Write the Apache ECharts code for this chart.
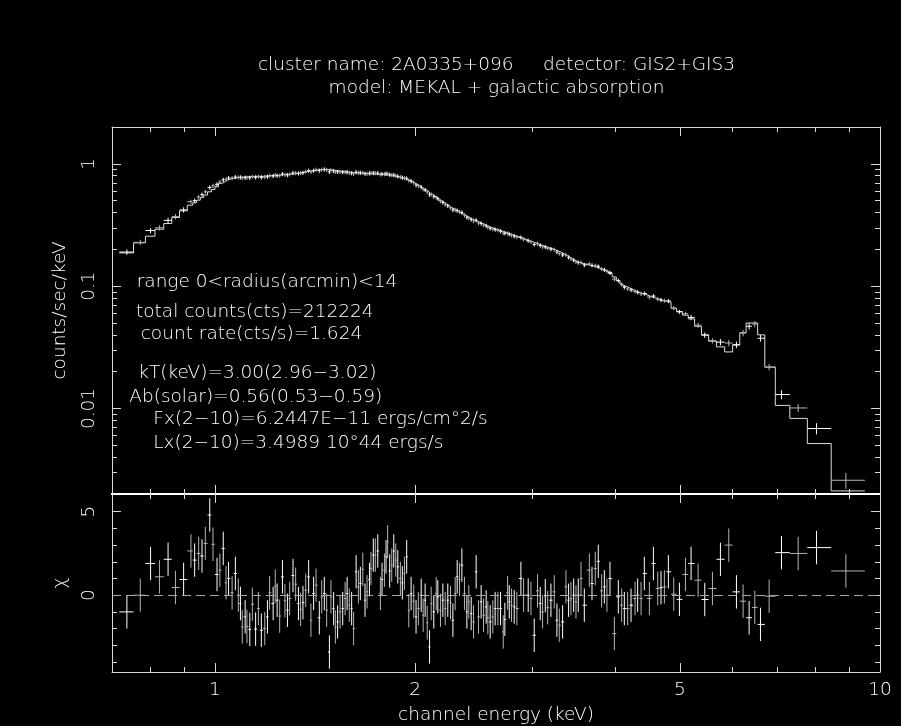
<!DOCTYPE html>
<html>
<head>
<meta charset="utf-8">
<script src="https://cdn.jsdelivr.net/npm/echarts@6/dist/echarts.min.js"></script>
<style>
html,body{margin:0;padding:0;background:#000;}
#chart{width:901px;height:726px;}
</style>
</head>
<body>
<div id="chart"></div>
<script>
// ---- data ----
// bin centres (keV)
const energy = [
 0.737,0.772,0.800,0.825,0.850,0.872,0.897,0.920,0.932,0.945,
 0.956,0.967,0.982,0.993,1.007,1.017,1.029,1.039,1.048,1.061,
 1.073,1.084,1.092,1.099,1.110,1.117,1.128,1.138,1.151,1.162,
 1.174,1.188,1.199,1.208,1.223,1.232,1.240,1.251,1.263,1.274,
 1.285,1.295,1.310,1.322,1.335,1.345,1.356,1.369,1.383,1.394,
 1.407,1.419,1.435,1.447,1.460,1.472,1.486,1.494,1.508,1.517,
 1.529,1.542,1.556,1.569,1.580,1.592,1.605,1.616,1.630,1.643,
 1.654,1.668,1.681,1.693,1.707,1.716,1.730,1.742,1.757,1.773,
 1.783,1.798,1.808,1.818,1.831,1.844,1.857,1.870,1.883,1.900,
 1.913,1.927,1.942,1.956,1.972,1.990,2.006,2.022,2.042,2.056,
 2.070,2.085,2.102,2.114,2.133,2.151,2.163,2.183,2.201,2.219,
 2.239,2.260,2.279,2.297,2.313,2.332,2.351,2.372,2.392,2.408,
 2.428,2.448,2.470,2.490,2.513,2.534,2.557,2.572,2.593,2.617,
 2.638,2.663,2.688,2.713,2.728,2.754,2.770,2.792,2.818,2.844,
 2.884,2.911,2.958,2.986,3.020,3.055,3.084,3.109,3.138,3.164,
 3.200,3.237,3.267,3.294,3.332,3.371,3.402,3.430,3.462,3.490,
 3.518,3.551,3.592,3.655,3.689,3.731,3.770,3.814,3.850,3.885,
 3.926,3.986,4.041,4.088,4.126,4.174,4.223,4.282,4.321,4.372,
 4.422,4.500,4.563,4.632,4.685,4.740,4.806,4.896,4.993,5.098,
 5.199,5.327,5.451,5.598,5.755,5.924,6.083,6.225,6.356,6.482,
 6.611,6.812,7.110,7.533,8.026,8.886
];
const firstEdge = 0.718;
const lastEdge = 9.49;

// residuals (chi)
const chi = [
 -1.0,0.0,1.9,1.1,2.15,0.46,0.94,2.65,2.1,2.5,
 2.35,3.1,4.8,3.05,1.24,1.5,2.8,0.74,1.0,0.14,
 1.3,0.0,-0.5,-1.9,-1.3,-1.87,-2.05,-0.54,-2.03,-0.8,
 -2.1,-2.0,-1.3,0.14,-0.5,0.54,-0.3,-1.25,1.1,-0.33,
 -0.9,-0.2,1.18,0.66,-0.5,-0.85,-0.45,0.3,1.1,-1.5,
 0.1,0.6,-1.35,-0.1,0.1,-0.9,-3.4,-0.1,-0.8,-1.9,
 -1.6,-1.0,-0.8,-0.2,0.1,-0.6,-0.8,-2.0,1.4,0.5,
 0.7,1.55,-0.3,0.2,0.94,1.6,2.4,2.4,2.65,0.1,
 0.94,1.5,2.3,3.2,1.45,1.8,2.65,2.1,1.7,1.0,
 0.74,1.3,2.3,-0.93,0.1,-0.36,-1.3,-0.8,0.0,-1.2,
 -0.3,-1.65,-3.1,-0.5,-1.0,0.1,-0.1,-0.9,-0.3,-0.8,
 -0.3,-0.45,-1.5,0.1,1.1,0.94,1.8,0.1,-1.0,-0.4,
 -1.1,-1.6,1.4,-1.3,-0.4,-1.2,-0.7,-1.35,-1.6,-1.3,
 -0.8,-0.8,-0.8,-2.2,-1.45,0.14,-0.4,-0.6,-0.7,-0.8,
 1.0,0.0,0.0,-0.2,-2.4,0.26,-0.5,-1.0,-0.03,-0.75,
 -0.3,0.2,-1.5,-1.8,-1.6,0.5,-0.3,-0.2,0.0,-0.4,
 0.0,1.0,-0.6,1.5,0.7,1.6,2.03,0.26,0.5,0.0,
 1.0,-2.3,-0.1,-0.6,-0.8,-0.8,-0.6,-0.2,0.0,-0.2,
 1.3,-0.2,1.9,0.4,0.45,0.5,1.4,0.06,-0.25,1.24,
 1.9,0.9,-0.26,0.4,2.15,3.0,0.2,-0.36,-1.35,-0.73,
 -1.75,-0.06,2.55,2.5,2.85,1.45
];
const chiErr = 1; // residuals are in units of sigma

// folded model (counts/sec/keV)
const model = [
 0.187,0.226,0.256,0.292,0.325,0.364,0.413,0.459,0.48,0.505,
 0.53,0.555,0.59,0.617,0.65,0.69,0.71,0.736,0.75,0.76,
 0.769,0.775,0.78,0.78,0.78,0.785,0.785,0.79,0.79,0.79,
 0.79,0.795,0.795,0.80,0.80,0.805,0.805,0.81,0.815,0.82,
 0.82,0.825,0.83,0.835,0.84,0.845,0.85,0.86,0.87,0.875,
 0.88,0.89,0.895,0.90,0.90,0.90,0.895,0.89,0.885,0.88,
 0.875,0.87,0.865,0.86,0.855,0.85,0.85,0.845,0.845,0.84,
 0.84,0.835,0.835,0.83,0.83,0.83,0.825,0.825,0.82,0.82,
 0.82,0.815,0.815,0.81,0.805,0.80,0.795,0.79,0.78,0.775,
 0.765,0.755,0.745,0.735,0.72,0.70,0.68,0.665,0.645,0.63,
 0.615,0.60,0.58,0.565,0.545,0.53,0.52,0.50,0.485,0.47,
 0.455,0.44,0.43,0.42,0.41,0.40,0.39,0.38,0.37,0.362,
 0.355,0.348,0.34,0.333,0.326,0.32,0.313,0.308,0.302,0.297,
 0.292,0.288,0.283,0.278,0.275,0.27,0.267,0.263,0.258,0.254,
 0.247,0.242,0.235,0.231,0.226,0.221,0.217,0.213,0.209,0.206,
 0.202,0.198,0.194,0.19,0.184,0.178,0.173,0.168,0.163,0.159,
 0.156,0.153,0.151,0.148,0.146,0.143,0.140,0.137,0.135,0.132,
 0.127,0.119,0.111,0.104,0.100,0.097,0.094,0.091,0.089,0.087,
 0.085,0.082,0.080,0.078,0.0765,0.0755,0.074,0.066,0.062,0.058,
 0.054,0.047,0.040,0.0355,0.0319,0.029,0.033,0.0416,0.050,0.050,
 0.040,0.0218,0.0106,0.0083,0.00517,0.00212
];

// measured rate (counts/sec/keV)
const rate = [
 0.19,0.228,0.285,0.30,0.345,0.37,0.42,0.49,0.50,0.535,
 0.56,0.59,0.64,0.66,0.68,0.71,0.74,0.75,0.765,0.765,
 0.78,0.775,0.775,0.765,0.77,0.77,0.77,0.785,0.775,0.785,
 0.775,0.78,0.785,0.80,0.795,0.81,0.80,0.80,0.825,0.815,
 0.81,0.82,0.84,0.84,0.835,0.84,0.845,0.865,0.88,0.86,
 0.88,0.895,0.88,0.895,0.90,0.89,0.86,0.885,0.875,0.86,
 0.86,0.86,0.855,0.855,0.855,0.845,0.84,0.83,0.855,0.845,
 0.845,0.845,0.83,0.83,0.835,0.84,0.84,0.84,0.84,0.82,
 0.825,0.825,0.83,0.83,0.815,0.81,0.81,0.80,0.79,0.78,
 0.77,0.765,0.76,0.73,0.72,0.70,0.67,0.66,0.645,0.62,
 0.612,0.588,0.56,0.562,0.54,0.53,0.52,0.495,0.483,0.465,
 0.453,0.437,0.42,0.42,0.415,0.405,0.40,0.38,0.365,0.36,
 0.35,0.342,0.345,0.328,0.325,0.316,0.311,0.303,0.297,0.293,
 0.29,0.286,0.281,0.272,0.271,0.27,0.266,0.261,0.256,0.252,
 0.25,0.242,0.235,0.23,0.219,0.222,0.215,0.21,0.209,0.204,
 0.201,0.199,0.19,0.185,0.18,0.18,0.172,0.167,0.163,0.158,
 0.156,0.156,0.149,0.152,0.148,0.147,0.145,0.138,0.136,0.132,
 0.129,0.114,0.111,0.103,0.098,0.095,0.093,0.0905,0.089,0.0865,
 0.087,0.0815,0.083,0.0785,0.077,0.076,0.0755,0.066,0.0617,0.0595,
 0.0555,0.048,0.0398,0.0358,0.0349,0.0343,0.0332,0.0414,0.047,0.049,
 0.0375,0.0218,0.013,0.0101,0.00686,0.00259
];

// relative 1-sigma error of the rate (%)
const rateErrPct = [
 5,5,5,5,5,5,5,4,4,4,
 4,4,4,4,4,4,4,4,4,4,
 4,4,4,4,4,4,4,4,4,4,
 4,4,4,4,4,4,4,4,4,4,
 4,4,4,4,4,4,4,4,4,4,
 4,4,4,4,4,4,4,4,4,4,
 4,4,4,4,4,4,4,4,4,4,
 4,4,4,4,4,4,4,4,4,4,
 4,4,4,4,4,4,4,4,4,4,
 4,4,4,4,4,4,4,4,4,4,
 4,4,4,4,4,4,4,4,4,4,
 4,4,4,4,4,4,4,4,4,4,
 4,4,4,4,4,4,4,4,4,4,
 4,4,4,4,4,4,4,4,4,4,
 4,4,4,4,4,4,4,4,4,4,
 4,4,4,4,4,4,4,4,4,4,
 4,4,4,4,4,4,4,4,4,4,
 4,4,4,4,4,4,4,4,4,4,
 4,4,4,4,4,4,4,4,4,4,
 5,5,5,5,6,6,6,6,6,6,
 6,6,8.4,7.4,10.5,15
];

// axes
const xRange = [0.7, 10];
const xMajorTicks = [1, 2, 5, 10];
const xMinorTicks = [0.8, 0.9, 3, 4, 6, 7, 8, 9];
const yTopRange = [0.002, 2];
const yTopMajorTicks = [0.01, 0.1, 1];
const yTopMinorTicks = [0.003,0.004,0.005,0.006,0.007,0.008,0.009,
                        0.02,0.03,0.04,0.05,0.06,0.07,0.08,0.09,
                        0.2,0.3,0.4,0.5,0.6,0.7,0.8,0.9];
const yBotRange = [-4.6, 6.06];
const yBotMajorTicks = [0, 5];
const yBotMinorTicks = [-4, -3, -2, -1, 1, 2, 3, 4];

// texts
const titleLines = [
  'cluster name: 2A0335+096     detector: GIS2+GIS3',
  'model: MEKAL + galactic absorption'
];
const notes = [
  'range 0<radius(arcmin)<14',
  'total counts(cts)=212224',
  'count rate(cts/s)=1.624',
  'kT(keV)=3.00(2.96\u22123.02)',
  'Ab(solar)=0.56(0.53\u22120.59)',
  'Fx(2\u221210)=6.2447E\u221211 ergs/cm\u00b02/s',
  'Lx(2\u221210)=3.4989 10\u00b044 ergs/s'
];
const yTitle = 'counts/sec/keV';
const chiTitle = '\u03c7';
const xTitle = 'channel energy (keV)';

// ---- build ----
const FONT = "'DejaVu Sans', sans-serif";
const FS = 18.5;
const FW = 200;
const TXT = '#ffffff';
const AX = '#d8d8d8';
const N = energy.length;
const lo = [], hi = [];
for (let i = 0; i < N; i++) {
  lo.push(i === 0 ? firstEdge : Math.sqrt(energy[i - 1] * energy[i]));
  hi.push(i === N - 1 ? lastEdge : Math.sqrt(energy[i] * energy[i + 1]));
}
const modelLine = [];
for (let i = 0; i < N; i++) {
  modelLine.push([lo[i], model[i]]);
  modelLine.push([hi[i], model[i]]);
}
const topCross = [], botCross = [];
for (let i = 0; i < N; i++) {
  const e = rate[i] * rateErrPct[i] / 100;
  topCross.push([energy[i], rate[i], lo[i], hi[i], rate[i] - e, rate[i] + e, i % 2]);
  botCross.push([energy[i], chi[i], lo[i], hi[i], chi[i] - chiErr, chi[i] + chiErr, i % 2]);
}

function crossRender(params, api) {
  const x = api.value(0), y = api.value(1);
  const a = api.coord([api.value(2), y]);
  const b = api.coord([api.value(3), y]);
  const c = api.coord([x, api.value(4)]);
  const d = api.coord([x, api.value(5)]);
  const col = api.value(6) ? '#b4b4b4' : '#ffffff';
  return {
    type: 'group',
    children: [
      { type: 'line', shape: { x1: a[0], y1: a[1], x2: b[0], y2: b[1] }, style: { stroke: col, lineWidth: 1 } },
      { type: 'line', shape: { x1: c[0], y1: c[1], x2: d[0], y2: d[1] }, style: { stroke: col, lineWidth: 1 } }
    ]
  };
}

function fmt(v) { return String(+(+v).toPrecision(6)); }

function axis(type, range, grid, pos, ticks, len, opts) {
  opts = opts || {};
  const a = {
    type: type,
    min: range[0], max: range[1],
    gridIndex: grid,
    position: pos,
    axisLine: { show: !!opts.line, onZero: false, lineStyle: { color: opts.lineColor || AX, width: opts.lineWidth || 1 } },
    axisTick: { show: true, inside: true, length: len, customValues: ticks, lineStyle: { color: AX, width: 1 } },
    axisLabel: { show: false },
    splitLine: { show: false },
    minorTick: { show: false },
    minorSplitLine: { show: false },
    axisPointer: { show: false },
    silent: true
  };
  if (type === 'log') a.logBase = 10;
  if (opts.labels) {
    a.axisLabel = {
      show: true, customValues: opts.labels, formatter: fmt,
      color: TXT, fontSize: FS, fontWeight: FW, fontFamily: FONT,
      rotate: opts.rotate || 0, margin: opts.margin || 8
    };
  }
  if (opts.name) {
    a.name = opts.name;
    a.nameLocation = 'middle';
    a.nameGap = opts.nameGap;
    a.nameRotate = opts.nameRotate || 0;
    a.nameTextStyle = { color: TXT, fontSize: FS, fontWeight: FW, fontFamily: FONT };
  }
  return a;
}

const MAJ = 9, MIN = 5;
const xAxes = [
  axis('log', xRange, 0, 'bottom', xMajorTicks, MAJ, { line: true, lineColor: '#ffffff', lineWidth: 2 }),
  axis('log', xRange, 0, 'bottom', xMinorTicks, MIN),
  axis('log', xRange, 0, 'top', xMajorTicks, MAJ, { line: true }),
  axis('log', xRange, 0, 'top', xMinorTicks, MIN),
  axis('log', xRange, 1, 'bottom', xMajorTicks, MAJ, { line: true, labels: xMajorTicks, margin: 9, name: xTitle, nameGap: 34 }),
  axis('log', xRange, 1, 'bottom', xMinorTicks, MIN),
  axis('log', xRange, 1, 'top', xMajorTicks, MAJ, { line: true, lineColor: '#ffffff', lineWidth: 2 }),
  axis('log', xRange, 1, 'top', xMinorTicks, MIN)
];
const yAxes = [
  axis('log', yTopRange, 0, 'left', yTopMajorTicks, MAJ, { line: true, labels: yTopMajorTicks, rotate: 90, margin: 13, name: yTitle, nameGap: 42, nameRotate: 90 }),
  axis('log', yTopRange, 0, 'left', yTopMinorTicks, MIN),
  axis('log', yTopRange, 0, 'right', yTopMajorTicks, MAJ, { line: true }),
  axis('log', yTopRange, 0, 'right', yTopMinorTicks, MIN),
  axis('value', yBotRange, 1, 'left', yBotMajorTicks, MAJ, { line: true, labels: yBotMajorTicks, rotate: 90, margin: 13, name: chiTitle, nameGap: 42, nameRotate: 90 }),
  axis('value', yBotRange, 1, 'left', yBotMinorTicks, MIN),
  axis('value', yBotRange, 1, 'right', yBotMajorTicks, MAJ, { line: true }),
  axis('value', yBotRange, 1, 'right', yBotMinorTicks, MIN)
];

const noteX = [136.7, 136, 140.7, 138.3, 129.3, 153.3, 153.3];
const noteY = [282, 312, 334, 372.7, 396.7, 418.7, 442.7];
const titleY = [65, 88];
const fontStr = FW + ' ' + FS + 'px ' + FONT;
const graphics = [];
titleLines.forEach(function (t, i) {
  graphics.push({ type: 'text', x: 496.5, y: titleY[i], silent: true,
    style: { text: t, fill: TXT, font: fontStr, textAlign: 'center', textVerticalAlign: 'middle', align: 'center', verticalAlign: 'middle' } });
});
notes.forEach(function (t, i) {
  graphics.push({ type: 'text', x: noteX[i], y: noteY[i], silent: true,
    style: { text: t, fill: TXT, font: fontStr, textAlign: 'left', textVerticalAlign: 'middle', align: 'left', verticalAlign: 'middle' } });
});

const option = {
  backgroundColor: '#000000',
  animation: false,
  grid: [
    { left: 112, top: 127, width: 768, height: 367 },
    { left: 112, top: 494, width: 768, height: 179 }
  ],
  xAxis: xAxes,
  yAxis: yAxes,
  graphic: graphics,
  series: [
    {
      type: 'line', xAxisIndex: 0, yAxisIndex: 0,
      data: modelLine, showSymbol: false, symbol: 'none',
      lineStyle: { color: '#dcdcdc', width: 1 }, silent: true, z: 2
    },
    {
      type: 'custom', xAxisIndex: 0, yAxisIndex: 0,
      data: topCross, renderItem: crossRender,
      encode: { x: 0, y: 1 }, silent: true, z: 3
    },
    {
      type: 'custom', xAxisIndex: 4, yAxisIndex: 4,
      data: botCross, renderItem: crossRender,
      encode: { x: 0, y: 1 }, silent: true, z: 3,
      markLine: {
        silent: true, symbol: ['none', 'none'], label: { show: false },
        lineStyle: { color: '#a8a8a8', type: [9, 5], width: 1 },
        data: [{ yAxis: 0 }]
      }
    }
  ]
};

const chart = echarts.init(document.getElementById('chart'), null, { renderer: 'canvas' });
chart.setOption(option);
</script>
</body>
</html>
